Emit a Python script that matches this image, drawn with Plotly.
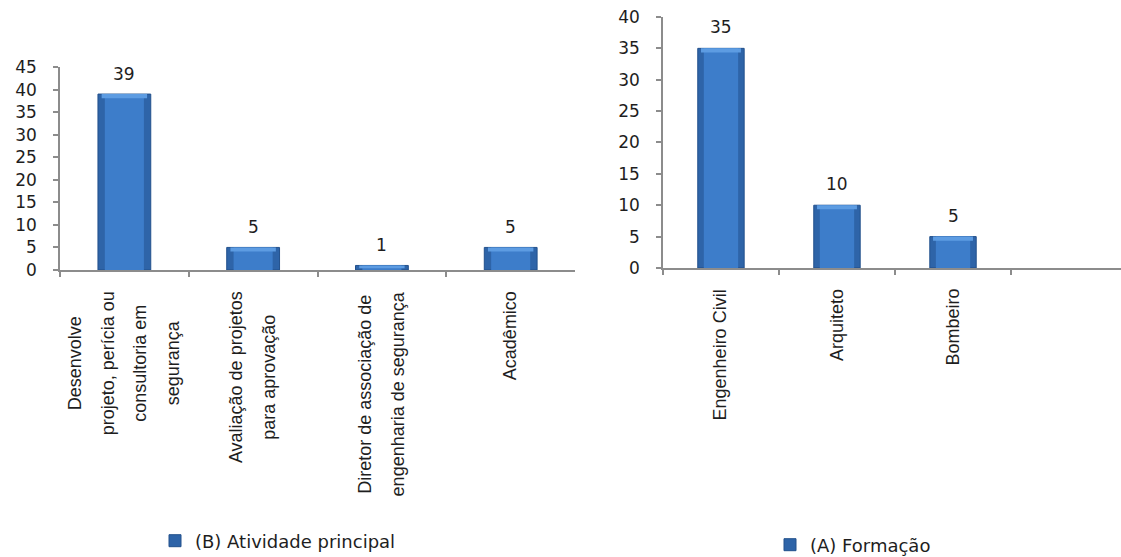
import plotly.graph_objects as go

# (B) Atividade principal
atividade_cats = [
    "Desenvolve projeto, perícia ou consultoria em segurança",
    "Avaliação de projetos para aprovação",
    "Diretor de associação de engenharia de segurança",
    "Acadêmico",
]
atividade_lines = [
    ["Desenvolve", "projeto, perícia ou", "consultoria em", "segurança"],
    ["Avaliação de projetos", "para aprovação"],
    ["Diretor de associação de", "engenharia de segurança"],
    ["Acadêmico"],
]
atividade_vals = [39, 5, 1, 5]

# (A) Formação  (last slot is an empty category)
formacao_cats = ["Engenheiro Civil", "Arquiteto", "Bombeiro", " "]
formacao_vals = [35, 10, 5, None]

left_ticks = list(range(0, 46, 5))
right_ticks = list(range(0, 41, 5))

EDGE = "#22508c"
MID = "#2e64a8"
FACE = "#3d7dca"
CAP = "#5d9ce2"
AXIS = "#8c8c8c"
TXT = "#1e1e1e"
NUM_FONT = dict(family="DejaVu Sans, Verdana, sans-serif", size=17, color=TXT)
LEG_FONT = dict(family="DejaVu Sans, Verdana, sans-serif", size=18, color=TXT)
CAT_FONT = "Liberation Sans, Arial, sans-serif"

fig = go.Figure()


def add_bars(cats, vals, xa, ya, name, legend, w, cap):
    # outer bar with the legend entry, a narrower lighter face, and a light bevel on top
    fig.add_trace(go.Bar(
        x=cats, y=vals, xaxis=xa, yaxis=ya, name=name, legend=legend,
        width=w, marker=dict(color=MID, line=dict(color=EDGE, width=1)),
        showlegend=True, hoverinfo="skip",
    ))
    fig.add_trace(go.Bar(
        x=cats, y=vals, xaxis=xa, yaxis=ya, width=w * 0.74,
        marker=dict(color=FACE, line=dict(width=0)),
        showlegend=False, hoverinfo="skip",
    ))
    bevel = [None if v is None else min(cap, v * 0.6) for v in vals]
    base = [None if v is None else v - b for v, b in zip(vals, bevel)]
    fig.add_trace(go.Bar(
        x=cats, y=bevel, base=base, xaxis=xa, yaxis=ya, width=w * 0.86,
        marker=dict(color=CAP, line=dict(width=0)),
        showlegend=False, hoverinfo="skip",
    ))


add_bars(atividade_cats, atividade_vals, "x", "y", "(B) Atividade principal", "legend", 0.41, 0.9)
add_bars(formacao_cats, formacao_vals, "x2", "y2", "(A) Formação", "legend2", 0.40, 0.65)

annotations = []
# value labels above bars
for c, v in zip(atividade_cats, atividade_vals):
    annotations.append(dict(x=c, y=v, xref="x", yref="y", text=str(v), showarrow=False,
                            yanchor="bottom", yshift=8, font=NUM_FONT))
for c, v in zip(formacao_cats, formacao_vals):
    if v is None:
        continue
    annotations.append(dict(x=c, y=v, xref="x2", yref="y2", text=str(v), showarrow=False,
                            yanchor="bottom", yshift=9, font=NUM_FONT))


def rotated_label(lines):
    # wide base size gives roomy line spacing, spans set the glyph size
    return "<br>".join(f"<span style='font-size:18px'>{ln}</span>" for ln in lines)


for c, lines in zip(atividade_cats, atividade_lines):
    annotations.append(dict(x=c, y=0, xref="x", yref="y domain", text=rotated_label(lines),
                            textangle=-90, showarrow=False, yanchor="top", yshift=-19,
                            align="center", font=dict(family=CAT_FONT, size=25, color=TXT)))
for c in formacao_cats[:3]:
    annotations.append(dict(x=c, y=0, xref="x2", yref="y2 domain", text=rotated_label([c]),
                            textangle=-90, showarrow=False, yanchor="top", yshift=-19,
                            align="center", font=dict(family=CAT_FONT, size=25, color=TXT)))

xaxis_common = dict(type="category", showline=True, linecolor=AXIS, linewidth=1.5,
                    ticks="outside", tickson="boundaries", ticklen=5, tickcolor=AXIS,
                    tickwidth=1.5, showticklabels=False, showgrid=False, zeroline=False,
                    fixedrange=True)
yaxis_common = dict(showline=True, linecolor=AXIS, linewidth=1.5, ticks="outside", ticklen=5,
                    tickcolor=AXIS, tickwidth=1.5, showgrid=False, zeroline=False,
                    tickfont=NUM_FONT, ticklabelstandoff=13, fixedrange=True)

fig.update_layout(
    width=1121, height=557,
    margin=dict(l=0, r=0, t=0, b=0, autoexpand=False),
    paper_bgcolor="white", plot_bgcolor="white",
    barmode="overlay",
    xaxis=dict(xaxis_common, domain=[0.0535, 0.513], anchor="y",
               categoryarray=atividade_cats, categoryorder="array", range=[-0.5, 3.5]),
    yaxis=dict(yaxis_common, domain=[0.5153, 0.8797], anchor="x", range=[0, 45],
               tickvals=left_ticks),
    xaxis2=dict(xaxis_common, domain=[0.5914, 1.0], anchor="y2",
                categoryarray=formacao_cats, categoryorder="array", range=[-0.5, 3.448]),
    yaxis2=dict(yaxis_common, domain=[0.5189, 0.9695], anchor="x2", range=[0, 40],
                tickvals=right_ticks),
    legend=dict(x=155 / 1121, y=1 - 541 / 557, xanchor="left", yanchor="middle",
                orientation="h", bgcolor="rgba(0,0,0,0)", font=LEG_FONT),
    legend2=dict(x=770 / 1121, y=1 - 545 / 557, xanchor="left", yanchor="middle",
                 orientation="h", bgcolor="rgba(0,0,0,0)", font=LEG_FONT),
    annotations=annotations,
    showlegend=True,
)

fig.write_html("out.html")
